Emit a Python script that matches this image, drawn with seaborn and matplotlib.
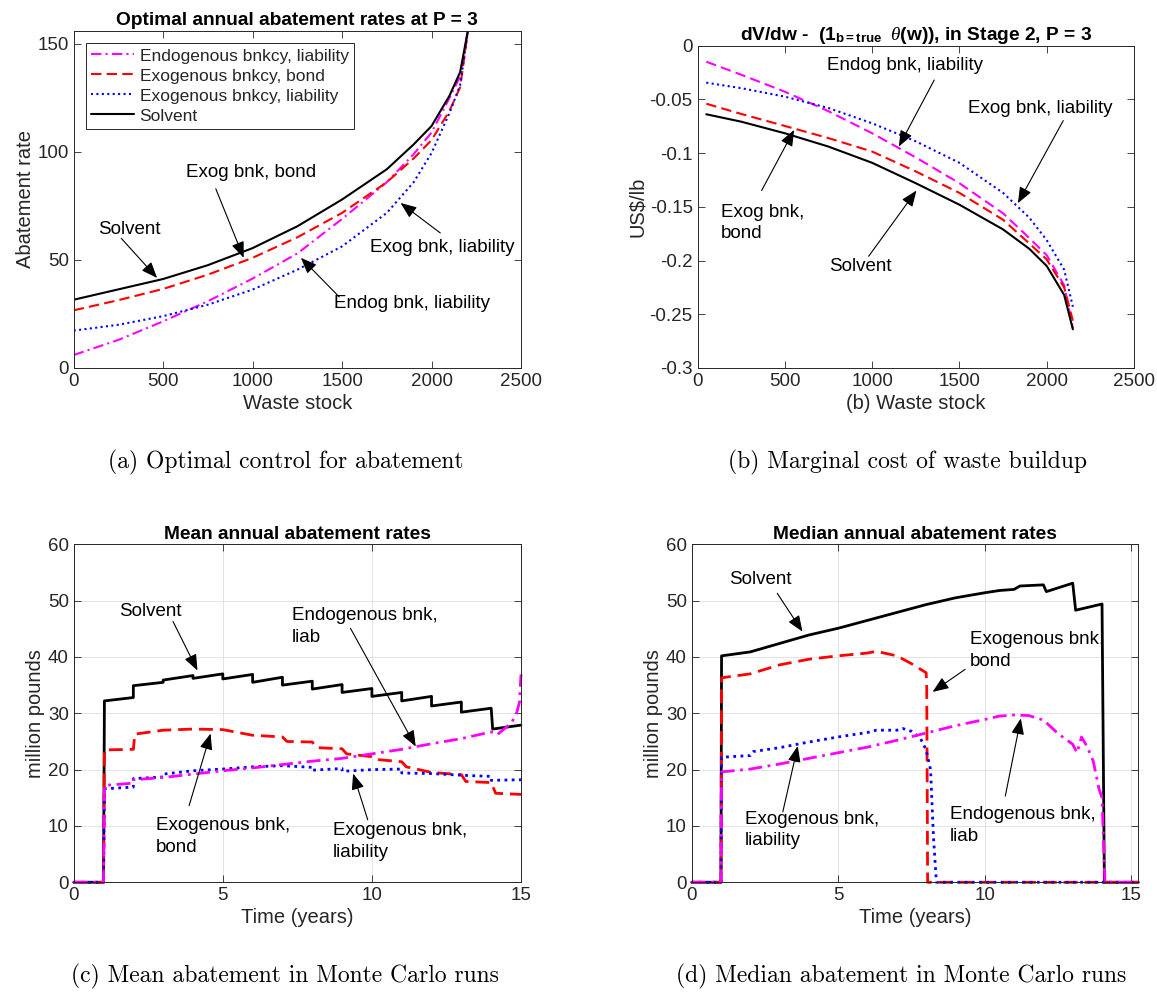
import matplotlib
matplotlib.use('Agg')
import matplotlib.pyplot as plt
import pandas as pd
import seaborn as sns

# ---- panel (a): optimal abatement vs waste stock ----
w_a = [0, 250, 500, 750, 1000, 1250, 1500, 1750, 1900, 2000, 2100, 2160, 2205]
endo_liab_a = [6.0, 13.0, 21.6, 30.9, 41.4, 53.0, 69.0, 86.0, 99.0, 109.0, 125.0, 135.0, 157]
exo_bond_a = [26.7, 31.4, 36.6, 43.2, 51.0, 60.5, 71.8, 86.0, 97.0, 105.5, 119.0, 130.0, 157]
exo_liab_a = [17.3, 20.0, 24.0, 29.3, 36.3, 45.5, 56.3, 71.8, 86.0, 99.5, 118.0, 131.0, 157]
solv_a = [31.6, 36.4, 41.2, 47.6, 55.5, 65.6, 78.0, 92.0, 103.5, 112.0, 126.0, 137.0, 157]

# ---- panel (b): marginal cost of waste buildup ----
w_b = [50, 250, 500, 750, 1000, 1250, 1500, 1750, 1900, 2000, 2100, 2150]
endo_liab_b = [-0.0149, -0.027, -0.0428, -0.061, -0.0815, -0.104, -0.128, -0.156, -0.179, -0.195, -0.223, -0.263]
exo_bond_b = [-0.054, -0.0635, -0.0747, -0.086, -0.0985, -0.117, -0.137, -0.162, -0.184, -0.199, -0.225, -0.256]
exo_liab_b = [-0.0344, -0.0395, -0.0474, -0.058, -0.0722, -0.089, -0.109, -0.137, -0.160, -0.181, -0.2085, -0.243]
solv_b = [-0.0638, -0.0707, -0.0815, -0.0939, -0.109, -0.128, -0.148, -0.171, -0.189, -0.205, -0.232, -0.264]
yticks_b = [-0.3, -0.25, -0.2, -0.15, -0.1, -0.05, 0]
ylabels_b = ['-0.3', '-0.25', '-0.2', '-0.15', '-0.1', '-0.05', '0']

# ---- panel (c): mean abatement, Monte Carlo ----
t_solv_c = [0, 1, 1.03, 2, 2, 3, 3, 4, 4, 5, 5, 6, 6, 7, 7, 8, 8, 9, 9, 10, 10, 11, 11, 12, 12, 13, 13, 14, 14.05, 15]
solv_c = [0, 0, 32.2, 32.8, 34.9, 35.5, 35.9, 36.7, 36.2, 37.0, 36.1, 36.9, 35.5, 36.4, 35.0, 35.7, 34.3, 35.1,
          33.7, 34.4, 33.0, 33.7, 32.2, 33.0, 31.3, 32.0, 30.2, 30.9, 27.2, 27.9]
t_bond_c = [0, 1, 1.03, 2, 2.05, 3, 4, 5, 6, 7, 7.15, 8, 8.15, 9, 9.15, 10, 10.15, 11, 11.15, 12, 13, 13.15, 14, 14.15, 15]
bond_c = [0, 0, 23.5, 23.6, 26.3, 27.0, 27.2, 27.1, 26.1, 25.8, 25.0, 24.9, 23.9, 23.7, 22.8, 22.3, 21.8, 21.4,
          20.5, 19.5, 19.1, 17.9, 17.7, 15.8, 15.6]
t_exl_c = [0, 1, 1.03, 2, 2, 3, 3, 4, 5, 6, 7, 8, 8, 9, 9, 10, 11, 11, 12, 13, 14, 14, 15]
exl_c = [0, 0, 16.6, 16.9, 18.4, 18.7, 19.2, 19.8, 20.1, 20.5, 20.7, 20.4, 19.9, 20.2, 19.7, 20.0, 20.1, 19.4,
         19.3, 19.0, 18.8, 18.1, 18.2]
t_endo_c = [0, 1, 1.03, 2, 2, 3, 4, 5, 6, 7, 8, 9, 10, 11, 12, 13, 14, 14.2, 14.5, 14.7, 14.85, 14.95, 15]
endo_c = [0, 0, 17.2, 17.6, 18.2, 18.6, 19.2, 19.8, 20.3, 20.9, 21.5, 22.0, 22.8, 23.6, 24.6, 25.5, 26.7, 26.2,
          27.5, 28.5, 30.0, 32.0, 36.9]

# ---- panel (d): median abatement, Monte Carlo ----
t_solv_d = [0, 1, 1.02, 2, 3, 4, 5, 6, 7, 8, 9, 10, 10.5, 11, 11.2, 12, 12.1, 13, 13.1, 14, 14.08, 15.24]
solv_d = [0, 0, 40.2, 40.9, 42.4, 43.9, 45.1, 46.5, 47.9, 49.3, 50.5, 51.4, 51.8, 52.0, 52.6, 52.8, 51.6, 53.1,
          48.3, 49.4, 0, 0]
t_bond_d = [0, 1, 1.02, 2, 3, 4, 5, 6, 6.3, 7, 7.5, 8, 8.02, 8.05, 15.24]
bond_d = [0, 0, 36.3, 37.0, 38.6, 39.6, 40.2, 40.7, 41.0, 40.2, 38.8, 37.2, 34.5, 0, 0]
t_exl_d = [0, 1, 1.02, 2, 2.1, 3, 4, 5, 6, 6.3, 7, 7.2, 7.5, 7.8, 8.0, 8.15, 8.25, 8.35, 15.24]
exl_d = [0, 0, 22.2, 22.5, 23.2, 23.9, 24.9, 25.8, 26.6, 27.0, 27.0, 27.3, 26.8, 25.6, 23.5, 20.0, 8.0, 0, 0]
t_endo_d = [0, 1, 1.02, 2, 3, 4, 5, 6, 7, 8, 9, 10, 10.5, 11, 11.5, 12, 12.5, 13, 13.15, 13.3, 13.5, 13.7, 13.9,
            14.0, 14.1, 15.24]
endo_d = [0, 0, 19.6, 20.1, 21.0, 22.0, 23.0, 24.0, 25.2, 26.5, 27.8, 28.9, 29.5, 29.7, 29.6, 28.8, 26.4, 24.5,
          23.0, 25.8, 24.0, 21.5, 16.5, 15.0, 0, 0]

legend_names = ['Endogenous bnkcy, liability', 'Exogenous bnkcy, bond',
                'Exogenous bnkcy, liability', 'Solvent']

sns.set_style('ticks')
plt.rcParams['font.family'] = ['Liberation Sans', 'DejaVu Sans']
plt.rcParams['axes.unicode_minus'] = False
plt.rcParams['mathtext.fontset'] = 'custom'
plt.rcParams['mathtext.rm'] = 'Liberation Sans'
plt.rcParams['mathtext.bf'] = 'Liberation Sans:bold'
plt.rcParams['mathtext.it'] = 'Liberation Serif:italic'
plt.rcParams['xtick.direction'] = 'in'
plt.rcParams['ytick.direction'] = 'in'
plt.rcParams['xtick.top'] = True
plt.rcParams['ytick.right'] = True

GRAY = '#262626'
DASH = (0, (5, 2.5))
DOT = (0, (1, 1.6))
DASHDOT = (0, (5, 2, 1, 2))

fig = plt.figure(figsize=(11.57, 9.94), dpi=100)
ax_a = fig.add_axes([0.0637, 0.6298, 0.3866, 0.339])
ax_b = fig.add_axes([0.6029, 0.6298, 0.3772, 0.3242])
ax_c = fig.add_axes([0.0637, 0.1124, 0.3866, 0.340])
ax_d = fig.add_axes([0.5978, 0.1124, 0.3861, 0.340])


def line(ax, x, y, color, ls, lw, clip=True):
    df = pd.DataFrame({'x': x, 'y': y})
    sns.lineplot(data=df, x='x', y='y', estimator=None, sort=False, ax=ax,
                 color=color, linestyle=ls, linewidth=lw, clip_on=clip)


def note(ax, text, pos, tail, tip):
    ax.text(pos[0], pos[1], text, ha='left', va='center', fontsize=13.5,
            color='black', linespacing=1.35)
    ax.annotate('', xy=tip, xytext=tail,
                arrowprops=dict(arrowstyle='-|>,head_length=0.7,head_width=0.28',
                                color='black', lw=0.8, shrinkA=0, shrinkB=0,
                                mutation_scale=14))


def style(ax, title, xlabel, ylabel, grid=False):
    ax.set_title(title, fontsize=13.8, fontweight='bold', color='black', pad=4)
    ax.set_xlabel(xlabel, fontsize=14.5, color=GRAY, labelpad=3)
    ax.set_ylabel(ylabel, fontsize=14.5, color=GRAY, labelpad=2)
    ax.tick_params(labelsize=13.5, colors=GRAY, length=5, width=0.6)
    for s in ax.spines.values():
        s.set_color(GRAY)
        s.set_linewidth(0.7)
    if grid:
        ax.grid(True, color='#dedede', linewidth=0.6)
        ax.set_axisbelow(True)


# (a)
line(ax_a, w_a, endo_liab_a, 'magenta', DASHDOT, 1.5)
line(ax_a, w_a, exo_bond_a, 'red', DASH, 1.5)
line(ax_a, w_a, exo_liab_a, 'blue', DOT, 1.5)
line(ax_a, w_a, solv_a, 'black', '-', 1.5)
ax_a.set_xlim(0, 2500)
ax_a.set_ylim(0, 156)
ax_a.set_xticks([0, 500, 1000, 1500, 2000, 2500])
ax_a.set_yticks([0, 50, 100, 150])
style(ax_a, 'Optimal annual abatement rates at P = 3', 'Waste stock', 'Abatement rate')
leg = ax_a.legend(ax_a.get_lines()[:4], legend_names, loc='upper left', fontsize=12.5,
                  frameon=True, fancybox=False, framealpha=1, edgecolor=GRAY,
                  handlelength=2.5, handletextpad=0.3, labelspacing=0.28,
                  borderpad=0.3, borderaxespad=0.7)
leg.get_frame().set_linewidth(0.7)
note(ax_a, 'Solvent', (134, 63.9), (266, 60), (466, 41.7))
note(ax_a, 'Exog bnk, bond', (630, 90.3), (794, 83), (950, 51))
note(ax_a, 'Exog bnk, liability', (1655, 55.6), (2049, 62.5), (1827, 76.4))
note(ax_a, 'Endog bnk, liability', (1454, 29.8), (1484, 32.9), (1270, 51))

# (b)
line(ax_b, w_b, endo_liab_b, 'magenta', DASH, 1.5)
line(ax_b, w_b, exo_bond_b, 'red', DASH, 1.5)
line(ax_b, w_b, exo_liab_b, 'blue', DOT, 1.5)
line(ax_b, w_b, solv_b, 'black', '-', 1.5)
ax_b.set_xlim(0, 2500)
ax_b.set_ylim(-0.3, 0)
ax_b.set_xticks([0, 500, 1000, 1500, 2000, 2500])
ax_b.set_yticks(yticks_b)
ax_b.set_yticklabels(ylabels_b)
style(ax_b, r'dV/dw -  (1$_{\mathbf{b=true}}\ \ \theta$(w)), in Stage 2, P = 3',
      '(b) Waste stock', r'US\$/lb')
note(ax_b, 'Endog bnk, liability', (741, -0.0186), (1356, -0.0319), (1153, -0.0939))
note(ax_b, 'Exog bnk, liability', (1550, -0.0583), (2095, -0.0697), (1835, -0.1466))
note(ax_b, 'Exog bnk,\nbond', (135, -0.165), (367, -0.1348), (553, -0.0784))
note(ax_b, 'Solvent', (752, -0.2055), (980, -0.196), (1254, -0.1348))

# (c)
line(ax_c, t_solv_c, solv_c, 'black', '-', 2, clip=False)
line(ax_c, t_bond_c, bond_c, 'red', DASH, 2, clip=False)
line(ax_c, t_exl_c, exl_c, 'blue', DOT, 2, clip=False)
line(ax_c, t_endo_c, endo_c, 'magenta', DASHDOT, 2, clip=False)
ax_c.set_xlim(0, 15)
ax_c.set_ylim(0, 60)
ax_c.set_xticks([0, 5, 10, 15])
ax_c.set_yticks(range(0, 61, 10))
style(ax_c, 'Mean annual abatement rates', 'Time (years)', 'million pounds', grid=True)
note(ax_c, 'Solvent', (1.52, 48.0), (3.33, 46.3), (4.15, 37.6))
note(ax_c, 'Endogenous bnk,\nliab', (7.32, 45.4), (9.28, 45.1), (11.47, 24.1))
note(ax_c, 'Exogenous bnk,\nbond', (2.75, 8.1), (3.87, 13.6), (4.59, 26.4))
note(ax_c, 'Exogenous bnk,\nliability', (8.68, 7.2), (9.86, 11.1), (9.37, 19.3))

# (d)
line(ax_d, t_solv_d, solv_d, 'black', '-', 2, clip=False)
line(ax_d, t_bond_d, bond_d, 'red', DASH, 2, clip=False)
line(ax_d, t_exl_d, exl_d, 'blue', DOT, 2, clip=False)
line(ax_d, t_endo_d, endo_d, 'magenta', DASHDOT, 2, clip=False)
ax_d.set_xlim(0, 15.24)
ax_d.set_ylim(0, 60)
ax_d.set_xticks([0, 5, 10, 15])
ax_d.set_yticks(range(0, 61, 10))
style(ax_d, 'Median annual abatement rates', 'Time (years)', 'million pounds', grid=True)
note(ax_d, 'Solvent', (1.29, 53.7), (2.92, 51.3), (3.78, 44.5))
note(ax_d, 'Exogenous bnk,\nbond', (9.48, 41.1), (9.33, 37.8), (8.22, 33.8))
note(ax_d, 'Exogenous bnk,\nliability', (1.81, 9.3), (3.11, 12.5), (3.62, 24.2))
note(ax_d, 'Endogenous bnk,\nliab', (8.82, 10.1), (10.70, 15.3), (11.23, 29.1))

# sub-figure captions
cap = dict(ha='center', va='center', fontsize=17, family='cmr10', color='black')
fig.text(286 / 1157, 1 - 462 / 994, '(a) Optimal control for abatement', **cap)
fig.text(907 / 1157, 1 - 462 / 994, '(b) Marginal cost of waste buildup', **cap)
fig.text(285 / 1157, 1 - 976 / 994, '(c) Mean abatement in Monte Carlo runs', **cap)
fig.text(901 / 1157, 1 - 976 / 994, '(d) Median abatement in Monte Carlo runs', **cap)

fig.savefig('out.png', dpi=100)
